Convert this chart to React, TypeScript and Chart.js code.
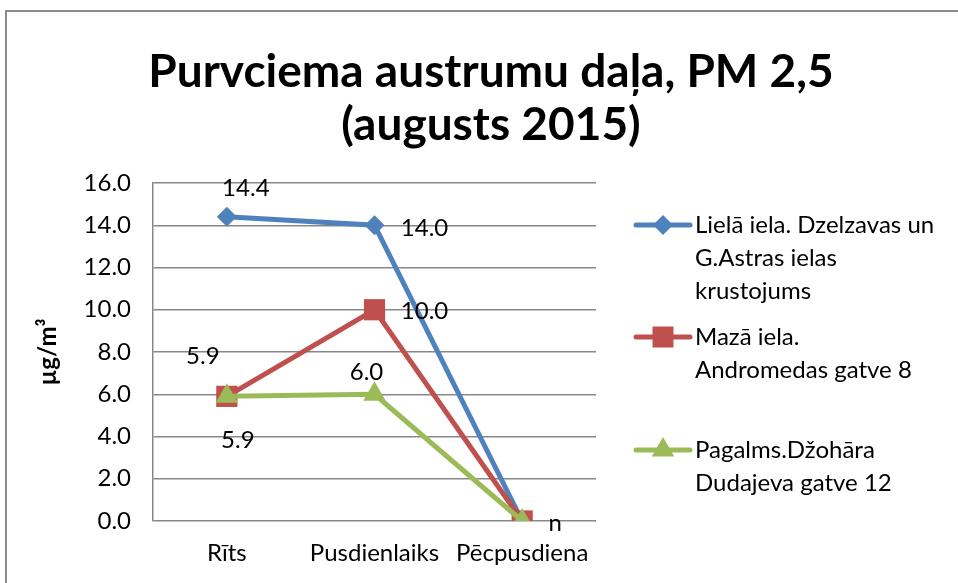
import React, { useEffect, useRef } from 'react';
import { Chart, registerables } from 'chart.js';

Chart.register(...registerables);

// ---- data ----
const categories = ['Rīts', 'Pusdienlaiks', 'Pēcpusdiena'];
const lielaValues = [14.4, 14.0, 0];
const mazaValues = [5.9, 10.0, 0];
const pagalmsValues = [5.9, 6.0, 0];
const lielaLabels = ['14.4', '14.0', ''];
const mazaLabels = ['5.9', '10.0', 'n'];
const pagalmsLabels = ['5.9', '6.0', ''];
const lielaName = ['Lielā iela. Dzelzavas un', 'G.Astras ielas', 'krustojums'];
const mazaName = ['Mazā iela.', 'Andromedas gatve 8'];
const pagalmsName = ['Pagalms.Džohāra', 'Dudajeva gatve 12'];
const titleLines = ['Purvciema austrumu daļa, PM 2,5', '(augusts 2015)'];
const yAxisTitle = 'µg/m³';
const yMin = 0;
const yMax = 16;
const yStep = 2;

// ---- style ----
const FONT = 'Lato, "Open Sans", sans-serif';
const BLUE = '#4F81BD';
const RED = '#C0504D';
const GREEN = '#9BBB59';
const GRID = '#878787';

const labelOffsets = [
  [[19, -29], [50, 3], [0, 0]],
  [[-24, -40], [50, 2], [33, 2]],
  [[11, 44], [-8, -22], [0, 0]],
];
const legendLayout = { lineX0: 636, lineX1: 690, textX: 695, lineH: 33, ys: [225, 337, 450] };

function drawMarker(ctx: CanvasRenderingContext2D, style: string, x: number, y: number, color: string) {
  ctx.save();
  ctx.fillStyle = color;
  ctx.beginPath();
  if (style === 'rectRot') {
    const r = 10;
    ctx.moveTo(x, y - r); ctx.lineTo(x + r, y); ctx.lineTo(x, y + r); ctx.lineTo(x - r, y);
  } else if (style === 'rect') {
    const h = 10.5;
    ctx.rect(x - h, y - h, 2 * h, 2 * h);
  } else {
    const r = 13;
    ctx.moveTo(x, y - r);
    ctx.lineTo(x + r * 0.866, y + r * 0.5);
    ctx.lineTo(x - r * 0.866, y + r * 0.5);
  }
  ctx.closePath();
  ctx.fill();
  ctx.restore();
}

const decorPlugin = {
  id: 'decor',
  beforeDraw(chart: any) {
    const ctx = chart.ctx as CanvasRenderingContext2D;
    ctx.save();
    ctx.fillStyle = '#fff';
    ctx.fillRect(0, 0, chart.width, chart.height);
    ctx.strokeStyle = '#8c8c8c';
    ctx.lineWidth = 2;
    ctx.strokeRect(6, 11, 2000, 2000);
    ctx.restore();
  },
  afterDatasetsDraw(chart: any) {
    const ctx = chart.ctx as CanvasRenderingContext2D;
    const allLabels = [lielaLabels, mazaLabels, pagalmsLabels];
    ctx.save();
    ctx.fillStyle = '#000';
    ctx.font = `24px ${FONT}`;
    ctx.textAlign = 'center';
    ctx.textBaseline = 'middle';
    allLabels.forEach((labels, di) => {
      const meta = chart.getDatasetMeta(di);
      labels.forEach((t, i) => {
        if (!t) return;
        const p = meta.data[i];
        const [dx, dy] = labelOffsets[di][i];
        ctx.fillText(t, p.x + dx, p.y + dy);
      });
    });
    ctx.restore();
  },
  afterDraw(chart: any) {
    const ctx = chart.ctx as CanvasRenderingContext2D;
    ctx.save();
    // title
    ctx.fillStyle = '#000';
    ctx.font = `bold 46px ${FONT}`;
    ctx.textAlign = 'center';
    ctx.textBaseline = 'middle';
    ctx.fillText(titleLines[0], 491, 72);
    ctx.fillText(titleLines[1], 491, 125);
    // legend
    const names = [lielaName, mazaName, pagalmsName];
    const colors = [BLUE, RED, GREEN];
    const styles = ['rectRot', 'rect', 'triangle'];
    ctx.font = `24px ${FONT}`;
    ctx.textAlign = 'left';
    names.forEach((lines, i) => {
      const y = legendLayout.ys[i];
      ctx.strokeStyle = colors[i];
      ctx.lineWidth = 5;
      ctx.lineCap = 'round';
      ctx.beginPath();
      ctx.moveTo(legendLayout.lineX0, y);
      ctx.lineTo(legendLayout.lineX1, y);
      ctx.stroke();
      drawMarker(ctx, styles[i], (legendLayout.lineX0 + legendLayout.lineX1) / 2, y, colors[i]);
      ctx.fillStyle = '#000';
      lines.forEach((l, j) => ctx.fillText(l, legendLayout.textX, y + j * legendLayout.lineH));
    });
    ctx.restore();
  },
};

export default function App() {
  const ref = useRef<HTMLCanvasElement | null>(null);
  useEffect(() => {
    document.body.style.margin = '0';
    const canvas = ref.current!;
    const mk = (label: string, data: number[], color: string, pointStyle: string, radius: number, order: number) => ({
      label,
      data,
      borderColor: color,
      backgroundColor: color,
      borderWidth: 5,
      pointStyle,
      pointRadius: radius,
      pointBorderWidth: 0,
      pointBackgroundColor: color,
      tension: 0,
      order,
    });
    const chart = new Chart(canvas, {
      type: 'line',
      data: {
        labels: categories,
        datasets: [
          mk(lielaName.join(' '), lielaValues, BLUE, 'rectRot', 10, 3),
          mk(mazaName.join(' '), mazaValues, RED, 'rect', 15, 2),
          mk(pagalmsName.join(' '), pagalmsValues, GREEN, 'triangle', 13, 1),
        ],
      },
      options: {
        responsive: false,
        animation: false,
        layout: { padding: { left: 0, top: 183, right: 362, bottom: 0 } },
        plugins: {
          legend: { display: false },
          title: { display: false },
          tooltip: { enabled: false },
        },
        scales: {
          x: {
            offset: true,
            grid: { display: false, drawTicks: false },
            border: { display: false },
            ticks: { color: '#000', font: { family: FONT, size: 24 }, padding: 18, maxRotation: 0, autoSkip: false },
            afterFit: (s: any) => { s.height = 62; },
          },
          y: {
            min: yMin,
            max: yMax,
            grid: { color: GRID, lineWidth: 1.5, drawTicks: false },
            border: { display: true, color: GRID, width: 1.5 },
            ticks: {
              stepSize: yStep,
              color: '#000',
              font: { family: FONT, size: 24 },
              padding: 22,
              callback: (v: any) => Number(v).toFixed(1),
            },
            title: {
              display: true,
              text: yAxisTitle,
              color: '#000',
              font: { family: FONT, size: 24, weight: 'bold' },
              padding: { top: 34, bottom: 0 },
            },
            afterFit: (s: any) => { s.width = 153; },
          },
        },
      },
      plugins: [decorPlugin],
    } as any);
    return () => chart.destroy();
  }, []);
  return (
    <div style={{ width: 958, height: 583 }}>
      <canvas ref={ref} width={958} height={583} style={{ display: 'block' }} />
    </div>
  );
}
